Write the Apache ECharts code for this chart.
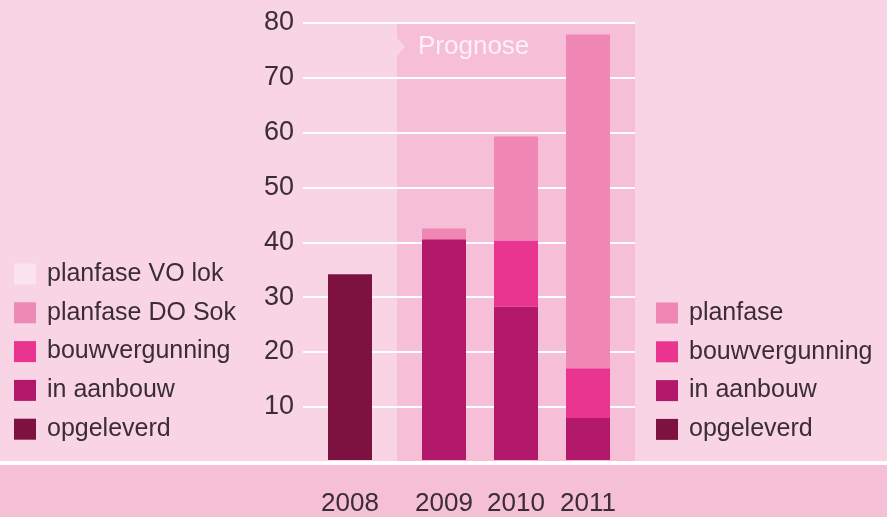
<!DOCTYPE html>
<html lang="nl">
<head>
    <meta charset="UTF-8">
    <title>Prognose</title>
    <script src="https://cdn.jsdelivr.net/npm/echarts@6/dist/echarts.min.js"></script>
    <style>
        html, body { margin: 0; padding: 0; background: #f9d4e4; }
        #chart { width: 887px; height: 517px; }
    </style>
</head>
<body>
<div id="chart"></div>
<script type="text/javascript">
    // data
    var historicYears = ['2008'];
    var prognoseYears = ['2009', '2010', '2011'];
    var opgeleverd = [34];
    var inAanbouw = [40.4, 28.1, 7.7];
    var bouwvergunning = [0, 12.1, 9.1];
    var planfase = [2.0, 19.0, 61.1];
    var yTicks = [0, 10, 20, 30, 40, 50, 60, 70, 80];

    var colors = {
        'planfase VO lok': '#fbe4ee',
        'planfase DO Sok': '#ee88b4',
        'planfase': '#ef86b4',
        'bouwvergunning': '#ea3590',
        'in aanbouw': '#b3196a',
        'opgeleverd': '#7d1240'
    };

    var txt = '#3a2d33';
    var font = "'Liberation Sans', Arial, sans-serif";

    var myChart = echarts.init(document.getElementById('chart'));

    var yBase = {
        type: 'value', min: yTicks[0], max: yTicks[yTicks.length - 1], interval: 10,
        axisLine: {show: false}, axisTick: {show: false}
    };

    function legend(names, left, top) {
        return {
            data: names, orient: 'vertical', left: left, top: top, padding: 0,
            icon: 'rect', itemWidth: 22, itemHeight: 21, itemGap: 10.8,
            selectedMode: false,
            textStyle: {
                fontFamily: font, fontSize: 25, lineHeight: 28, color: txt,
                padding: [0, 0, 0, 6]
            }
        };
    }

    function bar(name, grid, data) {
        return {
            name: name, type: 'bar', xAxisIndex: grid, yAxisIndex: grid,
            stack: 'g' + grid, barWidth: 44, data: data,
            itemStyle: {color: colors[name]}, emphasis: {disabled: true}
        };
    }

    var yearLabel = {color: txt, fontSize: 26, fontFamily: font, margin: 31, interval: 0};

    var option = {
        backgroundColor: '#f9d4e4',
        animation: false,
        graphic: [
            {type: 'rect', z: -1, shape: {x: 397, y: 23, width: 238, height: 440}, style: {fill: '#f6bed7'}},
            {type: 'polygon', z: -1, shape: {points: [[397, 38], [405, 47], [397, 56]]}, style: {fill: '#f9d4e4'}},
            {type: 'text', z: 100, left: 418, top: 34,
                style: {text: 'Prognose', fill: '#fdf0f6', font: "26px 'Liberation Sans', Arial, sans-serif"}},
            {type: 'rect', z: -1, shape: {x: 0, y: 465, width: 887, height: 52}, style: {fill: '#f5bfd6'}},
            {type: 'rect', z: 100, shape: {x: 0, y: 461, width: 887, height: 4}, style: {fill: '#ffffff'}}
        ],
        legend: [
            legend(['planfase VO lok', 'planfase DO Sok', 'bouwvergunning', 'in aanbouw', 'opgeleverd'], 14, 260),
            legend(['planfase', 'bouwvergunning', 'in aanbouw', 'opgeleverd'], 656, 299)
        ],
        grid: [
            {left: 303, right: 252, top: 23, bottom: 55.5},
            {left: 303, width: 94, top: 23, bottom: 55.5},
            {left: 408, width: 216, top: 23, bottom: 55.5}
        ],
        xAxis: [
            {type: 'category', gridIndex: 0, data: [''], show: false},
            {type: 'category', gridIndex: 1, data: historicYears,
                axisLine: {show: false}, axisTick: {show: false}, axisLabel: yearLabel},
            {type: 'category', gridIndex: 2, data: prognoseYears,
                axisLine: {show: false}, axisTick: {show: false}, axisLabel: yearLabel}
        ],
        yAxis: [
            Object.assign({}, yBase, {
                gridIndex: 0,
                axisLabel: {
                    color: txt, fontSize: 27, fontFamily: font, margin: 9,
                    formatter: function (v) { return v === 0 ? '' : v; }
                },
                splitLine: {lineStyle: {color: '#ffffff', width: 2}}
            }),
            Object.assign({}, yBase, {gridIndex: 1, axisLabel: {show: false}, splitLine: {show: false}}),
            Object.assign({}, yBase, {gridIndex: 2, axisLabel: {show: false}, splitLine: {show: false}})
        ],
        series: [
            bar('opgeleverd', 1, opgeleverd),
            bar('in aanbouw', 2, inAanbouw),
            bar('bouwvergunning', 2, bouwvergunning),
            bar('planfase', 2, planfase),
            bar('planfase DO Sok', 2, []),
            bar('planfase VO lok', 2, [])
        ]
    };
    myChart.setOption(option);
</script>
</body>
</html>
